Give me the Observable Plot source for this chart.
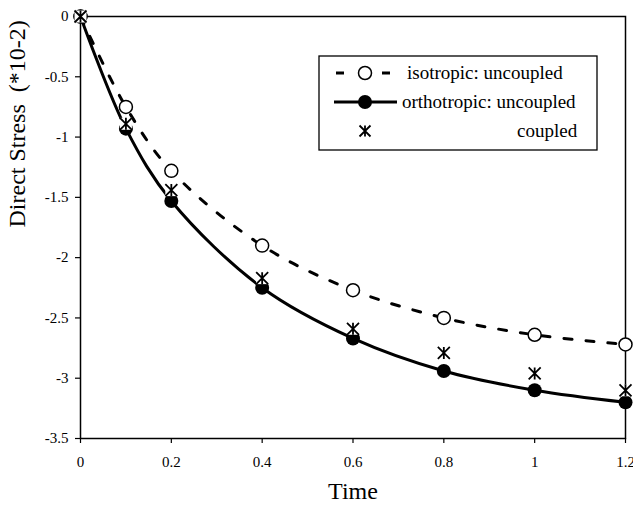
<!DOCTYPE html>
<html><head><meta charset="utf-8">
<script src="https://cdn.jsdelivr.net/npm/d3@7"></script>
<script src="https://cdn.jsdelivr.net/npm/@observablehq/plot@0.6"></script>
<style>
html,body{margin:0;padding:0;background:#fff;}
#chart{position:relative;width:633px;height:512px;}
#chart svg{font-family:"Liberation Serif","Times New Roman",serif;}
</style></head><body><div id="chart"></div>
<script>
const times = [0, 0.1, 0.2, 0.4, 0.6, 0.8, 1.0, 1.2];
const isotropic = [0, -0.75, -1.28, -1.90, -2.27, -2.50, -2.64, -2.72];
const orthotropic = [0, -0.93, -1.53, -2.25, -2.67, -2.94, -3.10, -3.20];
const coupled = [0, -0.89, -1.44, -2.17, -2.59, -2.79, -2.96, -3.10];
const xTicks = [0, 0.2, 0.4, 0.6, 0.8, 1, 1.2];
const yTicks = [0, -0.5, -1, -1.5, -2, -2.5, -3, -3.5];
const seriesNames = ["isotropic: uncoupled", "orthotropic: uncoupled", "coupled"];
const xTitle = "Time";
const yTitle = "Direct Stress  (*10-2)";

const data = times.map((t, i) => ({t, iso: isotropic[i], ortho: orthotropic[i], cpl: coupled[i]}));

const starSymbol = {draw(ctx, size) {
  const r = Math.sqrt(size / Math.PI);
  ctx.moveTo(-r, -r); ctx.lineTo(r, r);
  ctx.moveTo(r, -r); ctx.lineTo(-r, r);
  ctx.moveTo(0, -r); ctx.lineTo(0, r);
}};
const boxSymbol = {draw(ctx, size) {
  const r = Math.sqrt(size / Math.PI);
  ctx.rect(-r, -r, 2 * r, 2 * r);
}};

const plot = Plot.plot({
  width: 633, height: 512,
  marginLeft: 80, marginRight: 8, marginTop: 16, marginBottom: 74,
  style: {fontFamily: "Liberation Serif, Times New Roman, serif", fontSize: "15px", color: "#000", background: "#fff", overflow: "visible"},
  x: {domain: [0, 1.2]},
  y: {domain: [-3.5, 0]},
  marks: [
    Plot.frame({stroke: "black", strokeWidth: 1.5}),
    Plot.axisX({ticks: xTicks, tickFormat: d => String(d), tickSize: 5, tickPadding: 13, fontSize: 15, label: null, strokeWidth: 1.2}),
    Plot.axisY({ticks: yTicks, tickFormat: d => String(d), tickSize: 5, tickPadding: 7, fontSize: 15, label: null, strokeWidth: 1.2}),
    Plot.text([yTitle], {frameAnchor: "left", dx: -63, rotate: -90, fontSize: 24}),
    Plot.text([xTitle], {frameAnchor: "bottom", dy: 60, fontSize: 24}),
    Plot.line(data, {x: "t", y: "iso", curve: "catmull-rom", stroke: "black", strokeWidth: 3, strokeDasharray: "8,14"}),
    Plot.line(data, {x: "t", y: "ortho", curve: "catmull-rom", stroke: "black", strokeWidth: 3}),
    Plot.dot(data, {x: "t", y: "iso", r: 6.5, fill: "white", stroke: "black", strokeWidth: 1.5}),
    Plot.dot(data, {x: "t", y: "ortho", r: 7, fill: "black", stroke: "none"}),
    Plot.dot(data, {x: "t", y: "cpl", r: 6, symbol: boxSymbol, fill: "white", stroke: "none"}),
    Plot.dot(data, {x: "t", y: "cpl", r: 6, symbol: starSymbol, fill: "none", stroke: "black", strokeWidth: 1.8})
  ]
});
document.getElementById("chart").appendChild(plot);

// legend overlay
const lg = d3.select("#chart").append("svg")
  .attr("width", 633).attr("height", 512)
  .style("position", "absolute").style("left", "0px").style("top", "0px")
  .style("font-family", "Liberation Serif, Times New Roman, serif");
lg.append("rect").attr("x", 319).attr("y", 56).attr("width", 278).attr("height", 94)
  .attr("fill", "white").attr("stroke", "black").attr("stroke-width", 1.3);
const rowY = [73, 102, 131];
const textX = [407, 402, 517];
// isotropic
lg.append("line").attr("x1", 336).attr("x2", 392).attr("y1", rowY[0]).attr("y2", rowY[0])
  .attr("stroke", "black").attr("stroke-width", 3).attr("stroke-dasharray", "8,38");
lg.append("circle").attr("cx", 365).attr("cy", rowY[0]).attr("r", 6.5)
  .attr("fill", "white").attr("stroke", "black").attr("stroke-width", 1.5);
// orthotropic
lg.append("line").attr("x1", 334).attr("x2", 397).attr("y1", rowY[1]).attr("y2", rowY[1])
  .attr("stroke", "black").attr("stroke-width", 3);
lg.append("circle").attr("cx", 365).attr("cy", rowY[1]).attr("r", 7).attr("fill", "black");
// coupled
const sp = d3.path(); starSymbol.draw(sp, 5.5 * 5.5 * Math.PI);
lg.append("path").attr("d", sp.toString()).attr("transform", `translate(365,${rowY[2]})`)
  .attr("fill", "none").attr("stroke", "black").attr("stroke-width", 1.8);
seriesNames.forEach((name, i) => {
  lg.append("text").attr("x", textX[i]).attr("y", rowY[i] + 6).attr("font-size", 19).text(name);
});
</script>
</body></html>
